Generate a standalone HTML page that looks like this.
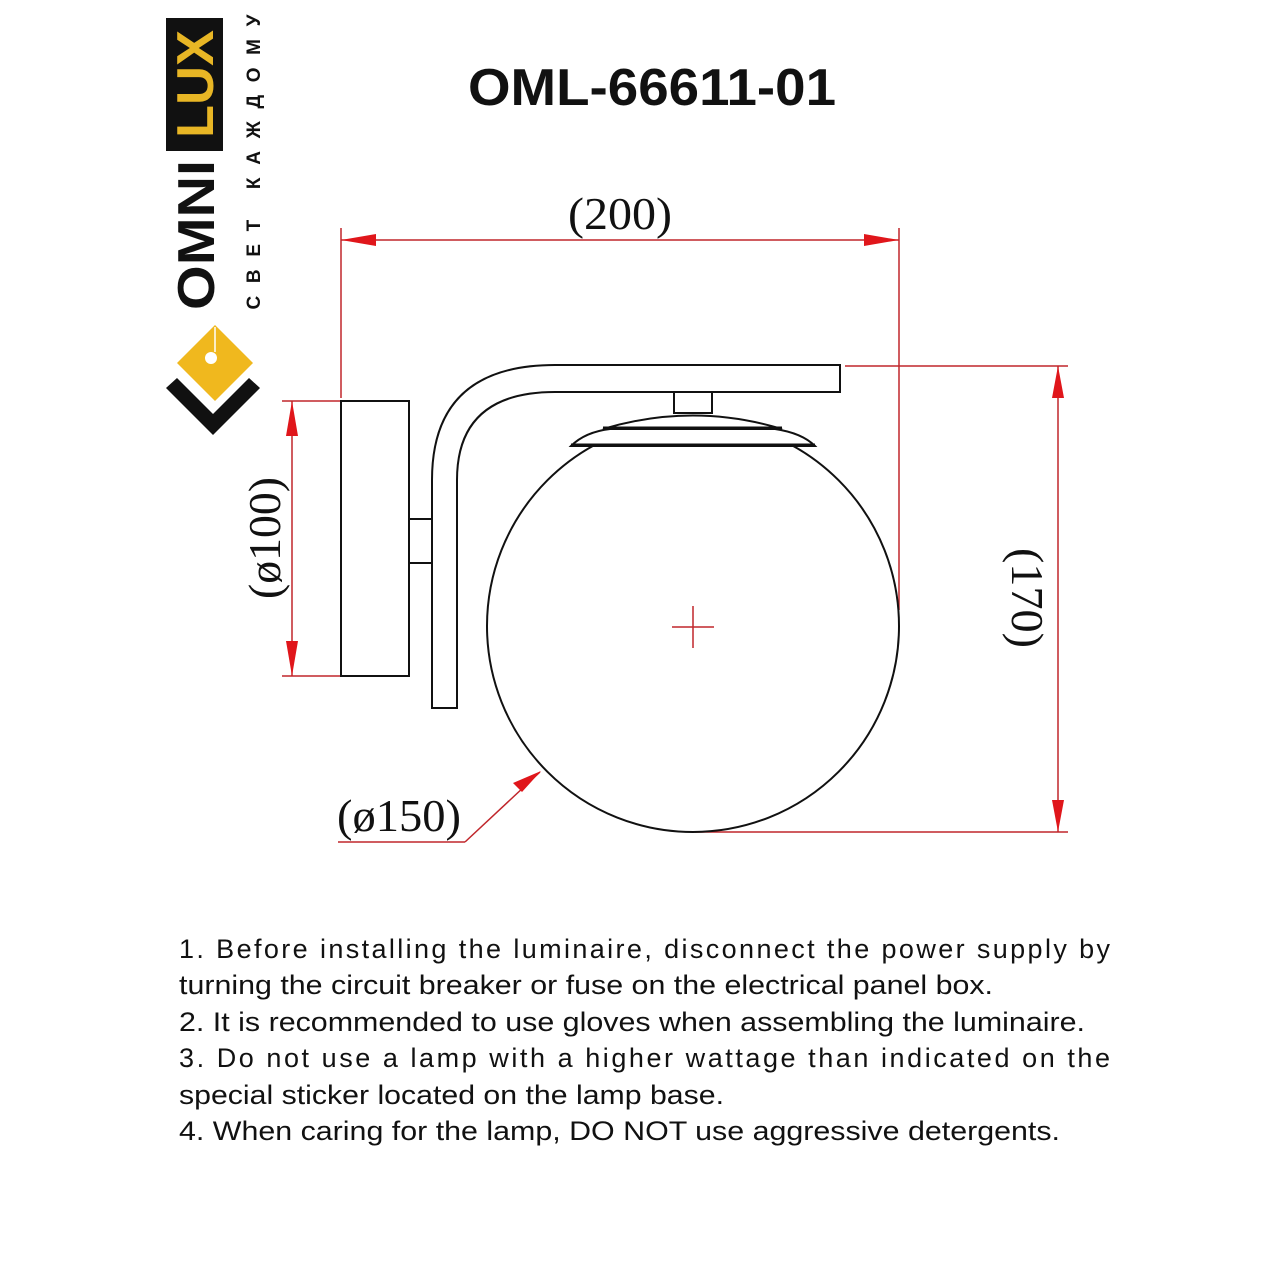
<!DOCTYPE html>
<html><head><meta charset="utf-8"><style>
html,body{margin:0;padding:0;background:#fff;}
svg{display:block}
</style></head><body>
<svg width="1280" height="1280" viewBox="0 0 1280 1280" xmlns="http://www.w3.org/2000/svg">
<defs><clipPath id="cl"><rect x="0" y="446" width="1280" height="500"/></clipPath></defs>
<rect width="1280" height="1280" fill="#fff"/>
<!-- Logo -->
<rect x="166" y="18" width="57" height="133" fill="#111"/>
<text transform="translate(213,84) rotate(-90)" text-anchor="middle" font-family="Liberation Sans, sans-serif" font-weight="bold" font-size="52" textLength="108" lengthAdjust="spacingAndGlyphs" fill="#e8b625">LUX</text>
<text transform="translate(214,235) rotate(-90)" text-anchor="middle" font-family="Liberation Sans, sans-serif" font-weight="bold" font-size="52" textLength="150" lengthAdjust="spacingAndGlyphs" fill="#111">OMNI</text>
<text transform="translate(260,162) rotate(-90)" text-anchor="middle" font-family="Liberation Sans, 'DejaVu Sans', sans-serif" font-weight="bold" font-size="19" textLength="295" lengthAdjust="spacing" fill="#111">СВЕТ КАЖДОМУ</text>
<polygon points="215,325 253,363 215,401 177,363" fill="#f0b81e"/>
<line x1="215" y1="327" x2="215" y2="352" stroke="#fff" stroke-width="1.5"/>
<circle cx="211" cy="358" r="6" fill="#fff"/>
<polygon points="166,388 177,378 213,414 249,378 260,388 213,435" fill="#111"/>
<!-- Title -->
<text x="652" y="105" text-anchor="middle" font-family="Liberation Sans, sans-serif" font-weight="bold" font-size="52" textLength="368" lengthAdjust="spacingAndGlyphs" fill="#111">OML-66611-01</text>
<!-- Red dimensions -->
<g stroke="#c0262b" stroke-width="1.5" fill="none">
<line x1="341" y1="228" x2="341" y2="398"/>
<line x1="899" y1="228" x2="899" y2="610"/>
<line x1="341" y1="240" x2="899" y2="240"/>
<line x1="282" y1="401" x2="341" y2="401"/>
<line x1="282" y1="676" x2="341" y2="676"/>
<line x1="292" y1="401" x2="292" y2="676"/>
<line x1="845" y1="366" x2="1068" y2="366"/>
<line x1="695" y1="832" x2="1068" y2="832"/>
<line x1="1058" y1="366" x2="1058" y2="832"/>
<line x1="338" y1="842" x2="465" y2="842"/>
<line x1="465" y1="842" x2="540" y2="772"/>
<line x1="672" y1="627" x2="714" y2="627"/>
<line x1="693" y1="606" x2="693" y2="648"/>
</g>
<g fill="#e0161b">
<polygon points="341,240 376,234 376,246"/>
<polygon points="899,240 864,234 864,246"/>
<polygon points="292,401 286,436 298,436"/>
<polygon points="292,676 286,641 298,641"/>
<polygon points="1058,366 1052,398 1064,398"/>
<polygon points="1058,832 1052,800 1064,800"/>
<polygon points="541,771 522,792 513,783"/>
</g>
<g font-family="Liberation Serif, serif" font-size="46" fill="#111">
<text x="620" y="229" text-anchor="middle" textLength="104" lengthAdjust="spacingAndGlyphs">(200)</text>
<text transform="translate(280,538) rotate(-90)" text-anchor="middle" textLength="122" lengthAdjust="spacingAndGlyphs">(ø100)</text>
<text transform="translate(1012,598) rotate(90)" text-anchor="middle" textLength="100" lengthAdjust="spacingAndGlyphs">(170)</text>
<text x="399" y="831" text-anchor="middle" textLength="124" lengthAdjust="spacingAndGlyphs">(ø150)</text>
</g>
<!-- Lamp -->
<g stroke="#111" stroke-width="2" fill="none">
<rect x="341" y="401" width="68" height="275"/>
<rect x="409" y="519" width="23" height="44"/>
<path d="M432,708 L432,480 Q432,365 555,365 L840,365 L840,392 L555,392 Q457,392 457,480 L457,708 Z"/>
<rect x="674" y="392" width="38" height="21"/>
<path d="M603,429 Q693,402 782,429 Z" fill="#fff"/>
<path d="M571,446 Q585,432 610,429 L775,429 Q802,433 815,446 Z" fill="#fff"/>
<circle cx="693" cy="626" r="206" clip-path="url(#cl)"/>
</g>
<line x1="571" y1="445" x2="815" y2="445" stroke="#111" stroke-width="3"/>
<line x1="603" y1="428" x2="782" y2="428" stroke="#111" stroke-width="3"/>
<!-- Notes -->
<g font-family="Liberation Sans, sans-serif" font-size="27" fill="#111">
<text x="179" y="958" textLength="931" lengthAdjust="spacing">1. Before installing the luminaire, disconnect the power supply by</text>
<text x="179" y="994" textLength="814" lengthAdjust="spacingAndGlyphs">turning the circuit breaker or fuse on the electrical panel box.</text>
<text x="179" y="1031" textLength="906" lengthAdjust="spacingAndGlyphs">2. It is recommended to use gloves when assembling the luminaire.</text>
<text x="179" y="1067" textLength="931" lengthAdjust="spacing">3. Do not use a lamp with a higher wattage than indicated on the</text>
<text x="179" y="1104" textLength="545" lengthAdjust="spacingAndGlyphs">special sticker located on the lamp base.</text>
<text x="179" y="1140" textLength="881" lengthAdjust="spacingAndGlyphs">4. When caring for the lamp, DO NOT use aggressive detergents.</text>
</g>
</svg>
</body></html>
